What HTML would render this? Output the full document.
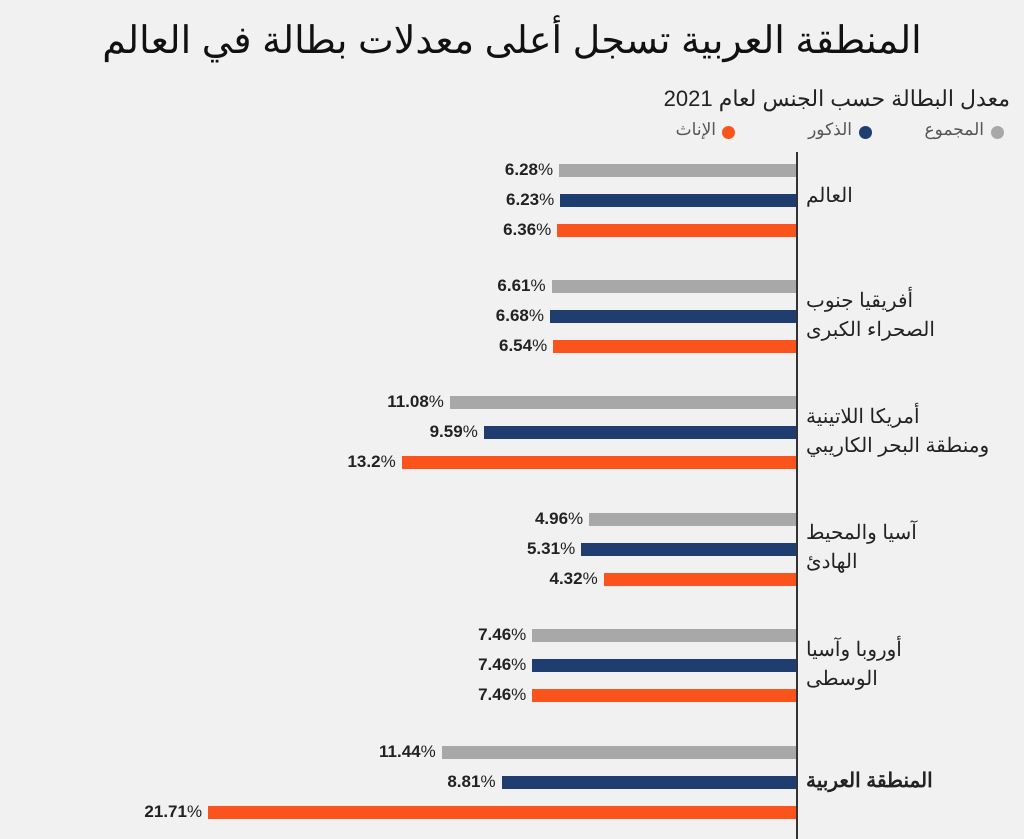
<!DOCTYPE html>
<html><head><meta charset="utf-8"><style>
body{margin:0;width:1024px;height:839px;background:#f1f1f1;position:relative;overflow:hidden;font-family:"Liberation Sans","Noto Sans CJK SC",sans-serif;color:#222}
.t{position:absolute;white-space:nowrap}
.bar{position:absolute;height:13px}
.v{position:absolute;font-weight:bold;font-size:17px;text-align:right;width:100px;font-family:"Liberation Sans Narrow","Liberation Sans",sans-serif}
.v span{font-weight:normal}
.c{position:absolute;left:806px;font-size:20px;direction:rtl;text-align:left;line-height:29px;font-family:"Liberation Sans","Noto Sans CJK SC",sans-serif}
.dot{position:absolute;width:13px;height:13px;border-radius:50%}
</style></head><body>
<div class="t" style="left:0;width:1024px;text-align:center;top:18px;font-size:38px;direction:rtl;color:#111">المنطقة العربية تسجل أعلى معدلات بطالة في العالم</div>
<div class="t" style="right:14px;top:86px;font-size:22px;direction:rtl">معدل البطالة حسب الجنس لعام 2021</div>
<div class="dot" style="left:991px;top:126px;background:#a8a8a8"></div><div class="t" style="right:40px;top:120px;font-size:17px;color:#555">المجموع</div>
<div class="dot" style="left:859px;top:126px;background:#1f3d6e"></div><div class="t" style="right:172px;top:120px;font-size:17px;color:#555">الذكور</div>
<div class="dot" style="left:722px;top:126px;background:#fa541c"></div><div class="t" style="right:308px;top:120px;font-size:17px;color:#555">الإناث</div>
<div style="position:absolute;left:796px;top:152px;width:1.5px;height:687px;background:#333"></div>
<div id="bars"></div>
<div class="c" style="top:182px">العالم</div>
<div class="c" style="top:287px">أفريقيا جنوب<br>الصحراء الكبرى</div>
<div class="c" style="top:403px">أمريكا اللاتينية<br>ومنطقة البحر الكاريبي</div>
<div class="c" style="top:519px">آسيا والمحيط<br>الهادئ</div>
<div class="c" style="top:636px">أوروبا وآسيا<br>الوسطى</div>
<div class="c" style="top:767px;font-weight:bold">المنطقة العربية</div>
<script>
var d=[[6.28,6.23,6.36,170],[6.61,6.68,6.54,286],[11.08,9.59,13.2,402],[4.96,5.31,4.32,519],[7.46,7.46,7.46,635],[11.44,8.81,21.71,752]];
var cols=["#a8a8a8","#1f3d6e","#fa541c"],h="";
d.forEach(function(r){for(var i=0;i<3;i++){var v=r[i],y=r[3]+i*30-6,len=94+22.75*v,x=796-len;
h+='<div class="bar" style="left:'+x+'px;top:'+y+'px;width:'+len+'px;background:'+cols[i]+'"></div>';
var s=(v===13.2?"13.2":v.toFixed(2));
h+='<div class="v" style="left:'+(x-106)+'px;top:'+(y-4)+'px">'+s+'<span>%</span></div>';}});
document.getElementById("bars").innerHTML=h;
</script>
</body></html>
